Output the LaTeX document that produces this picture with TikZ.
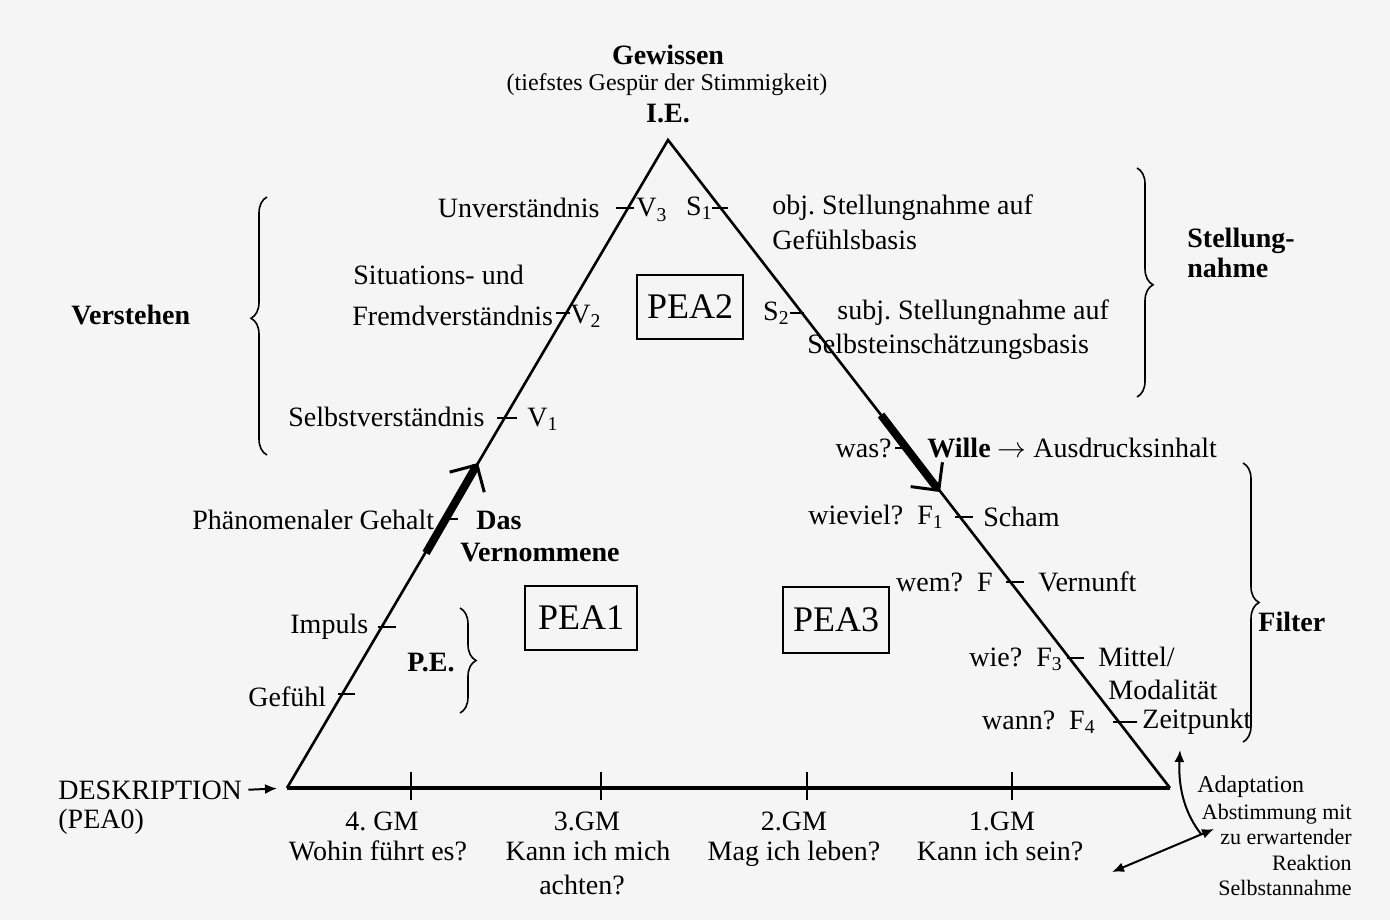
\documentclass[tikz,border=0pt]{standalone}
\usepackage{fontspec}
\setmainfont{Liberation Serif}
\usetikzlibrary{arrows.meta,decorations.pathreplacing,calc}
\frenchspacing
\newcommand\mainsz{\fontsize{14}{15}\selectfont}
\newcommand\midsz{\fontsize{12}{14}\selectfont}
\newcommand\smallsz{\fontsize{11}{12.7}\selectfont}
\newcommand\peasz{\fontsize{18}{20}\selectfont}
\tikzset{
  lbl/.style={inner sep=0pt, font=\mainsz},
  gmlbl/.style={lbl, text height=10pt, text depth=3pt},
  bflbl/.style={inner sep=0pt, font=\mainsz\bfseries},
  peabox/.style={draw, line width=1.2pt, inner sep=0pt, minimum width=53pt, minimum height=32pt, font=\peasz},
  side/.style={line width=1.3pt},
  tickmark/.style={line width=1.1pt},
  bracket/.style={line width=0.8pt, decorate, decoration={brace, amplitude=8pt, aspect=#1}},
  bracket/.default=0.5,
  bigarrow/.style={line width=4pt, -{Straight Barb[length=10pt, width=20pt, line width=1.5pt]}},
  arr/.style={line width=1pt, -{Latex[length=6pt, width=5pt]}},
  dblarr/.style={line width=1pt, {Latex[length=6pt, width=5pt]}-{Latex[length=6pt, width=5pt]}}
}
\begin{document}
\begin{tikzpicture}[x=0.5pt, y=-0.5pt]
  \useasboundingbox[fill=black!4] (0,0) rectangle (1390,920);

  % Dreieck
  \coordinate (apex) at (668,140);
  \coordinate (bl) at (287,788);
  \coordinate (br) at (1170,788);
  \draw[side] (bl) -- (apex) -- (br);
  \draw[line width=1.6pt] (bl) -- (br);

  % Punkte auf den Seiten
  \coordinate (tv3) at (628,208);
  \coordinate (tv2) at (566,313);
  \coordinate (tv1) at (505,418);
  \coordinate (tph) at (446,519);
  \coordinate (timp) at (382,627);
  \coordinate (tgef) at (343,694);
  \coordinate (ts1) at (721,208);
  \coordinate (ts2) at (802,313);
  \coordinate (twas) at (907,448);
  \coordinate (tf1) at (960,517);
  \coordinate (tf) at (1009,582);
  \coordinate (tf3) at (1069,658);
  \coordinate (tf4) at (1119,722);
  \foreach \pt/\dx/\len in {tv3/-12/18, tv2/-10/14, tv1/-8/20, tph/-4/16, timp/-4/18, tgef/-5/17,
      ts1/-9/16, ts2/-12/14, twas/-12/16, tf1/-5/18, tf/-3/18, tf3/-2/17, tf4/-6/24}
    \draw[tickmark] ($(\pt)+(\dx,0)$) -- ++(\len,0);
  \foreach \x in {411,601,807,1012}
    \draw[tickmark] (\x,772) -- (\x,800);

  % dicke Pfeile
  \coordinate (la1) at (426,553);
  \coordinate (la2) at (478,463);
  \coordinate (ra1) at (881,415);
  \coordinate (ra2) at (940,492);
  \draw[bigarrow] (la1) -- (la2);
  \draw[bigarrow] (ra1) -- (ra2);

  % oben
  \node[bflbl] (gewissen) at (668,55) {Gewissen};
  \node[inner sep=0pt, font=\midsz] (gespuer) at (667,85) {(tiefstes Gespür der Stimmigkeit)};
  \node[bflbl] (ie) at (668,114) {I.E.};

  % linke Seite
  \node[lbl, anchor=east] (unv) at (600,208) {Unverständnis};
  \node[lbl, anchor=west] (v3) at (636,210) {V\textsubscript{3}};
  \node[lbl, anchor=west] (situ) at (353,275) {Situations- und};
  \node[lbl, anchor=west] (fremd) at (352,316) {Fremdverständnis};
  \node[lbl, anchor=west] (v2) at (570,316) {V\textsubscript{2}};
  \node[lbl, anchor=west] (selbstv) at (288,417) {Selbstverständnis};
  \node[lbl, anchor=west] (v1) at (527,419) {V\textsubscript{1}};
  \node[lbl, anchor=west] (phaen) at (192,520) {Phänomenaler Gehalt};
  \node[bflbl, anchor=west] (das) at (476,520) {Das};
  \node[bflbl, anchor=west] (vernom) at (460,553) {Vernommene};
  \node[lbl, anchor=west] (impuls) at (290,627) {Impuls};
  \node[lbl, anchor=west] (gefuehl) at (248,697) {Gefühl};
  \node[bflbl, anchor=west] (pe) at (407,663) {P.E.};
  \node[bflbl, anchor=west] (verstehen) at (71,315) {Verstehen};
  \draw[bracket=0.53] (267,455) -- (267,197);
  \draw[bracket] (460,608) -- (460,713);

  % rechte Seite
  \node[lbl, anchor=east] (s1) at (713,208) {S\textsubscript{1}};
  \node[lbl, anchor=west] (obj) at (772,208) {obj. Stellungnahme auf};
  \node[lbl, anchor=west] (gefbasis) at (772,240) {Gefühlsbasis};
  \node[lbl, anchor=east] (s2) at (790,313) {S\textsubscript{2}};
  \node[lbl, anchor=west] (subj) at (837,313) {subj. Stellungnahme auf};
  \node[lbl, anchor=west] (selbstein) at (807,347) {Selbsteinschätzungsbasis};
  \node[bflbl, anchor=west, align=left] (stellung) at (1187,253) {Stellung-\\nahme};
  \draw[bracket=0.51] (1137,168) -- (1137,397);

  \node[lbl, anchor=east] (was) at (892,448) {was?};
  \node[lbl, anchor=west] (wille) at (927,448) {\textbf{Wille} $\rightarrow$ Ausdrucksinhalt};
  \node[lbl, anchor=east] (wieviel) at (944,517) {wieviel?\enspace F\textsubscript{1}};
  \node[lbl, anchor=west] (scham) at (983,517) {Scham};
  \node[lbl, anchor=east] (wem) at (993,582) {wem?\enspace F};
  \node[lbl, anchor=west] (vernunft) at (1038,582) {Vernunft};
  \node[lbl, anchor=east] (wie) at (1063,659) {wie?\enspace F\textsubscript{3}};
  \node[lbl, anchor=west] (mittel) at (1098,657) {Mittel/};
  \node[lbl, anchor=west] (modal) at (1108,690) {Modalität};
  \node[lbl, anchor=east] (wann) at (1096,722) {wann?\enspace F\textsubscript{4}};
  \node[lbl, anchor=west] (zeit) at (1142,722) {Zeitpunkt};
  \node[bflbl, anchor=west] (filter) at (1258,622) {Filter};
  \draw[bracket] (1243,463) -- (1243,742);

  % PEA-Kaesten
  \node[peabox] (pea2) at (690,307) {PEA2};
  \node[peabox, minimum width=56pt] (pea1) at (581,618) {PEA1};
  \node[peabox, minimum height=33pt] (pea3) at (836,620) {PEA3};

  % Basis
  \node[lbl, anchor=west] (deskr) at (58,790) {DESKRIPTION};
  \node[lbl, anchor=west] (pea0) at (58,822) {(PEA0)};
  \draw[arr, shorten <=3pt, shorten >=5pt] (deskr.east) -- (bl);
  \node[gmlbl] (gm4) at (382,823) {4. GM};
  \node[gmlbl] (wohin) at (378,853) {Wohin führt es?};
  \node[gmlbl] (gm3) at (587,823) {3.GM};
  \node[gmlbl] (achtmich) at (588,853) {Kann ich mich};
  \node[gmlbl] (achten) at (582,887) {achten?};
  \node[gmlbl] (gm2) at (794,823) {2.GM};
  \node[gmlbl] (leben) at (794,853) {Mag ich leben?};
  \node[gmlbl] (gm1) at (1002,823) {1.GM};
  \node[gmlbl] (sein) at (1000,853) {Kann ich sein?};

  % Adaptation
  \node[inner sep=0pt, font=\midsz, anchor=west] (adapt) at (1197,787) {Adaptation};
  \node[inner sep=0pt, font=\smallsz, align=right, anchor=east] (abst) at (1352,850)
    {Abstimmung mit\\zu erwartender\\Reaktion\\Selbstannahme};
  \coordinate (adL) at (1112,872);
  \coordinate (adR) at (1214,829);
  \coordinate (adJ) at (1201,834);
  \coordinate (adT) at (1180,750);
  \draw[dblarr] (adL) -- (adR);
  \draw[arr] (adJ) .. controls (1186,815) and (1178,790) .. (adT);
\end{tikzpicture}
\end{document}
